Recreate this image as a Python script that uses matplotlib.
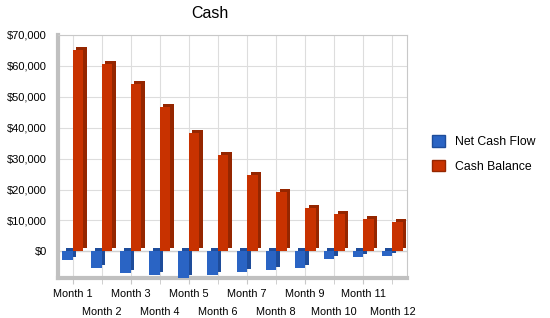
import numpy as np
import matplotlib.pyplot as plt
from matplotlib.transforms import ScaledTranslation
from matplotlib.patches import Patch
from matplotlib.ticker import FuncFormatter

months = ['Month %d' % i for i in range(1, 13)]
net_cash_flow = [-2900, -5400, -7000, -7700, -8600, -7700, -6600, -6000, -5400, -2500, -1800, -1500]
cash_balance = [65300, 60500, 54000, 46600, 38200, 31200, 24700, 19300, 14000, 12100, 10400, 9500]

blue, blue_side = '#2a64c4', '#1e4c9a'
red, red_side = '#c83200', '#952600'

plt.rcParams['font.family'] = ['Liberation Sans', 'DejaVu Sans']

fig = plt.figure(figsize=(5.5, 3.18), dpi=100)
ax = fig.add_axes([58 / 550, 1 - 278 / 318, 349 / 550, 243 / 318])

x = np.arange(len(months))
w = 0.36
# depth of the fake 3D bars, in inches (about 4 px right, 3 px up)
depth = ScaledTranslation(0.035, 0.03, fig.dpi_scale_trans)

ax.bar(x - w / 2, net_cash_flow, w, color=blue_side, transform=ax.transData + depth, zorder=2)
ax.bar(x - w / 2, net_cash_flow, w, color=blue, zorder=3)
ax.bar(x + w / 2, cash_balance, w, color=red_side, transform=ax.transData + depth, zorder=2)
ax.bar(x + w / 2, cash_balance, w, color=red, zorder=3)

ax.set_xlim(-0.5, 11.5)
ax.set_ylim(-8600, 70000)
ax.set_yticks(np.arange(0, 70001, 10000))
ax.yaxis.set_major_formatter(FuncFormatter(lambda v, p: '${:,.0f}'.format(v)))

# odd months on the first row, even months on a second row
ax.set_xticks(x[::2])
ax.set_xticklabels(months[::2])
ax.set_xticks(x[1::2], minor=True)
ax.set_xticklabels(months[1::2], minor=True)

ax.grid(True, which='both', color='#dddddd', linewidth=0.8, zorder=0)
ax.set_axisbelow(True)
ax.axhline(0, color='#d0d0d0', linewidth=1, zorder=1)

for s in ['top', 'right']:
    ax.spines[s].set_color('#c8c8c8')
    ax.spines[s].set_linewidth(0.8)
for s in ['left', 'bottom']:
    ax.spines[s].set_color('#c0c0c0')
    ax.spines[s].set_linewidth(3)

ax.tick_params(axis='y', length=0, pad=8, labelsize=8)
ax.tick_params(axis='x', which='major', length=4, color='#c8c8c8', pad=4, labelsize=7.8)
ax.tick_params(axis='x', which='minor', length=4, color='#c8c8c8', pad=17, labelsize=7.8)

fig.text(210 / 550, 1 - 13 / 318, 'Cash', ha='center', va='center', fontsize=11.5)

handles = [Patch(facecolor=blue, edgecolor=blue_side, label='Net Cash Flow'),
           Patch(facecolor=red, edgecolor=red_side, label='Cash Balance')]
fig.legend(handles=handles, loc='upper left', bbox_to_anchor=(421 / 550, 1 - 124 / 318),
           frameon=False, fontsize=8.8, handlelength=1.1, handleheight=1.1,
           handletextpad=0.8, labelspacing=0.95)

fig.savefig('out.png', dpi=100)
